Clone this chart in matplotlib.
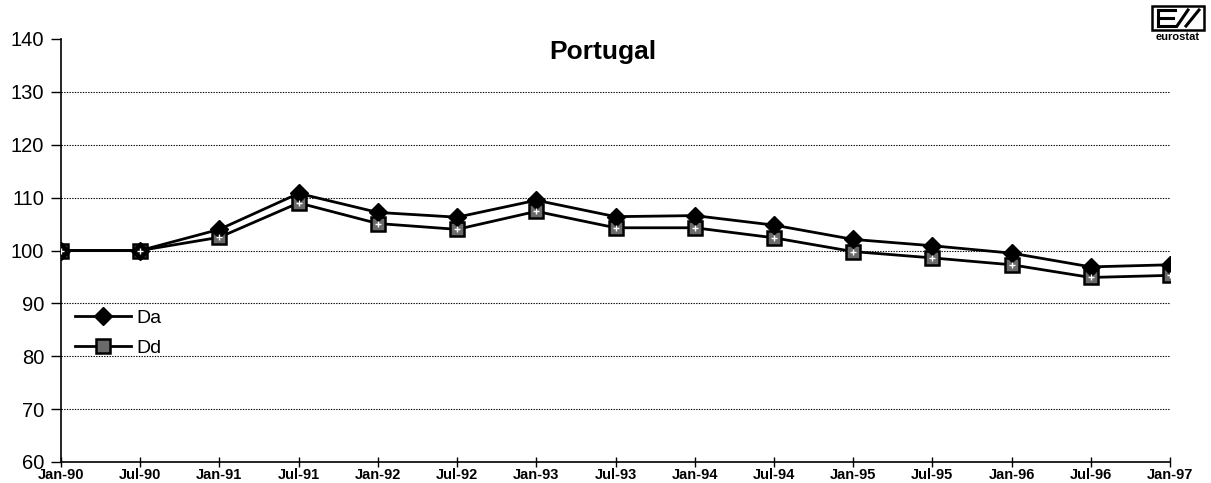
import matplotlib
matplotlib.use("Agg")
import matplotlib.pyplot as plt
from matplotlib.patches import Rectangle
from matplotlib.lines import Line2D

plt.rcParams['font.family'] = ['Liberation Sans', 'DejaVu Sans']

periods = ["Jan-90", "Jul-90", "Jan-91", "Jul-91", "Jan-92", "Jul-92", "Jan-93", "Jul-93",
           "Jan-94", "Jul-94", "Jan-95", "Jul-95", "Jan-96", "Jul-96", "Jan-97"]
da = [100.0, 100.0, 104.0, 110.8, 107.2, 106.3, 109.5, 106.4, 106.6, 104.8,
      102.1, 100.9, 99.5, 96.9, 97.3]
dd = [100.0, 100.0, 102.5, 109.0, 105.1, 104.0, 107.4, 104.3, 104.3, 102.4,
      99.8, 98.6, 97.3, 94.9, 95.3]
y_ticks = [60, 70, 80, 90, 100, 110, 120, 130, 140]

W, H = 1211, 483
fig = plt.figure(figsize=(W / 100, H / 100), dpi=100)
ax = fig.add_axes([61 / W, 1 - 462 / H, 1109 / W, 423 / H])

x = list(range(len(periods)))
ax.plot(x, da, color='black', lw=2, marker='D', markersize=9,
        markerfacecolor='black', markeredgecolor='black', label='Da', zorder=4)
ax.plot(x, dd, color='black', lw=2, marker='s', markersize=10,
        markerfacecolor='#6a6a6a', markeredgecolor='black', markeredgewidth=1.8,
        label='Dd', zorder=3)
# speckled fill inside the square markers
ax.plot(x, dd, linestyle='none', marker='+', markersize=4.5, markeredgewidth=1,
        color='white', zorder=5)

ax.set_xlim(0, len(periods) - 1)
ax.set_ylim(60, 140)
ax.set_yticks(y_ticks)
ax.set_xticks(x)
ax.set_xticklabels(periods, fontsize=10.5, fontweight='bold')
ax.tick_params(axis='x', direction='inout', length=7, width=1, pad=1)
ax.tick_params(axis='y', direction='out', length=7, width=1, labelsize=14.5, pad=5)

for v in y_ticks[1:-1]:
    ax.axhline(v, color='black', lw=0.8, linestyle=(0, (1.2, 1.2)), zorder=1)

for s in ['top', 'right']:
    ax.spines[s].set_visible(False)
for s in ['left', 'bottom']:
    ax.spines[s].set_linewidth(1.2)

fig.text(603 / W, 1 - 52 / H, 'Portugal', ha='center', va='center',
         fontsize=19, fontweight='bold')

leg = ax.legend(loc='upper left', bbox_to_anchor=(75 / W, 1 - 309 / H),
                bbox_transform=fig.transFigure, frameon=False,
                fontsize=14, handlelength=2.9, handletextpad=0.25, labelspacing=0.65,
                borderaxespad=0, borderpad=0)

# eurostat logo
px = lambda v: v / W
py = lambda v: 1 - v / H
fig.patches.append(Rectangle((px(1152), py(30)), 52 / W, 24 / H, transform=fig.transFigure,
                             fill=False, edgecolor='black', lw=1.8))
for (xa, xb), (ya, yb) in [((1158, 1158), (10, 26)), ((1158, 1175), (10, 10)),
                           ((1158, 1173), (18, 18)), ((1158, 1175), (26, 26)),
                           ((1177, 1188), (26, 10)), ((1186, 1199), (26, 10))]:
    fig.lines.append(Line2D([px(xa), px(xb)], [py(ya), py(yb)],
                            transform=fig.transFigure, color='black', lw=2.2))
fig.text(px(1178), py(37), 'eurostat', ha='center', va='center', fontsize=8,
         fontweight='bold')

fig.savefig('out.png', dpi=100)
